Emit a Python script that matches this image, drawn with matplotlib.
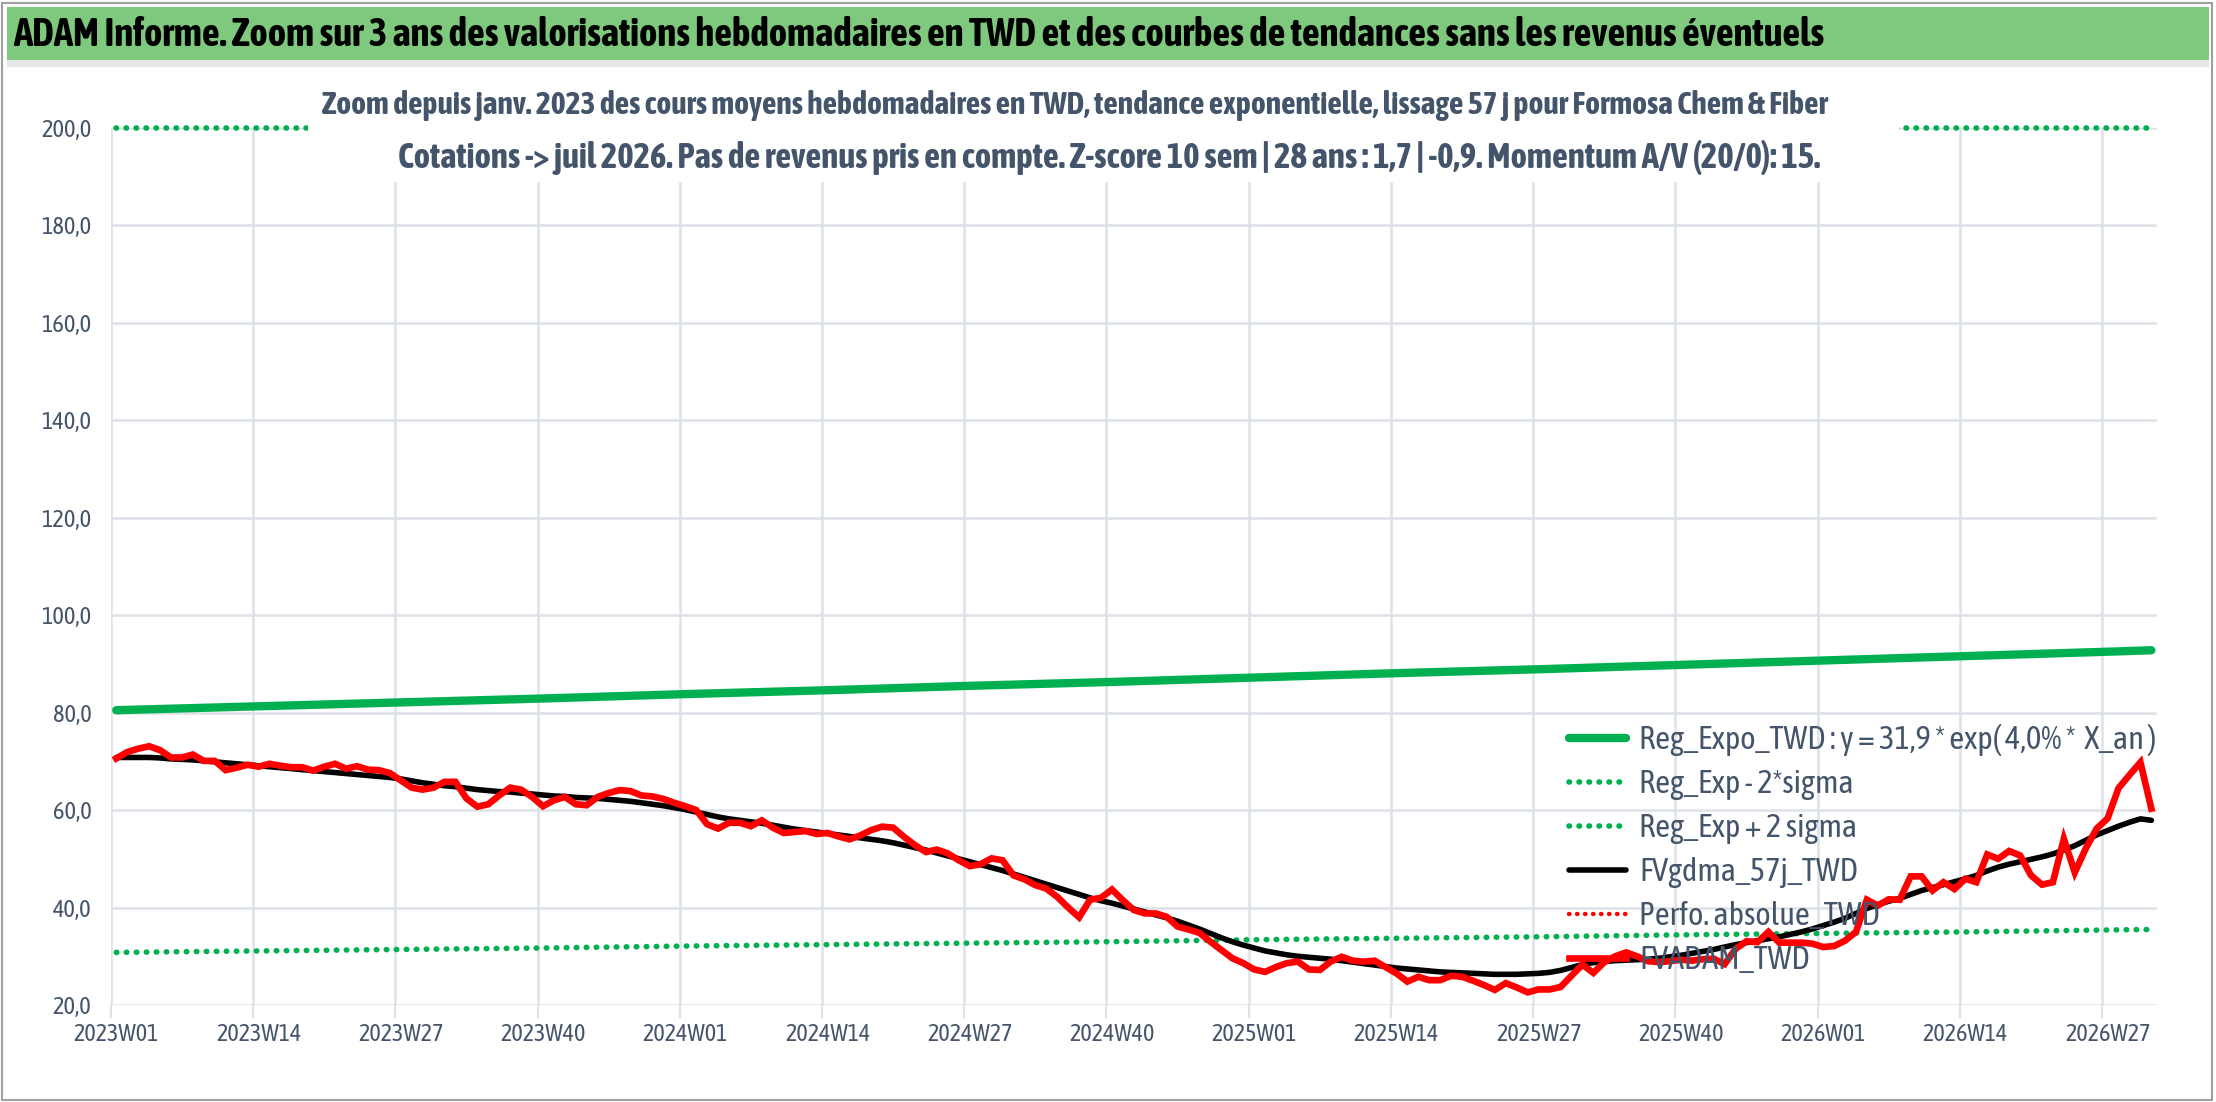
import matplotlib
matplotlib.use("Agg")
import matplotlib.pyplot as plt
from matplotlib import font_manager as fm
from matplotlib.patches import Rectangle
import numpy as np

# weekly values, 2023W01 -> 2026W31
fvadam = [70.6, 71.9, 72.6, 73.1, 72.3, 70.8, 70.8, 71.4, 70.1, 70.1,
          68.2, 68.7, 69.3, 68.9, 69.5, 69.1, 68.8, 68.8, 68.1, 68.9,
          69.5, 68.5, 69.0, 68.3, 68.2, 67.6, 66.1, 64.6, 64.2, 64.6,
          65.8, 65.8, 62.4, 60.7, 61.2, 63.0, 64.6, 64.2, 62.7, 60.8,
          62.0, 62.7, 61.2, 61.0, 62.7, 63.5, 64.1, 63.9, 63.0, 62.8,
          62.3, 61.5, 60.8, 60.0, 57.1, 56.2, 57.4, 57.4, 56.7, 57.9,
          56.4, 55.3, 55.5, 55.7, 55.1, 55.3, 54.6, 54.0, 54.8, 55.9,
          56.6, 56.4, 54.5, 52.8, 51.4, 51.9, 51.1, 49.7, 48.5, 48.9,
          50.1, 49.7, 46.6, 45.8, 44.6, 43.9, 42.2, 40.0, 38.0, 41.6,
          42.0, 43.7, 41.5, 39.5, 38.8, 38.8, 38.1, 36.1, 35.5, 34.8,
          33.0, 31.3, 29.6, 28.6, 27.3, 26.8, 27.8, 28.6, 28.9, 27.3,
          27.2, 28.9, 29.9, 29.1, 28.9, 29.1, 27.8, 26.5, 24.8, 25.8,
          25.1, 25.1, 26.0, 25.8, 25.0, 24.1, 23.1, 24.5, 23.6, 22.6,
          23.2, 23.2, 23.7, 26.0, 28.3, 26.6, 28.8, 30.0, 30.8, 30.0,
          29.0, 28.8, 29.0, 29.3, 29.1, 29.4, 29.5, 28.4, 31.5, 33.1,
          32.9, 35.0, 32.8, 32.8, 32.8, 32.6, 31.9, 32.1, 33.2, 35.0,
          41.6, 40.4, 41.7, 41.6, 46.4, 46.4, 43.5, 45.2, 43.8, 45.9,
          45.2, 50.9, 50.0, 51.6, 50.7, 46.6, 44.7, 45.2, 54.1, 47.2,
          52.1, 56.2, 58.3, 64.5, 67.2, 69.8, 60.3]

fvgdma = [70.8, 70.8, 70.8, 70.8, 70.7, 70.5, 70.4, 70.3, 70.1, 69.9,
          69.7, 69.5, 69.3, 69.1, 68.9, 68.7, 68.5, 68.3, 68.1, 67.9,
          67.7, 67.5, 67.3, 67.1, 66.9, 66.7, 66.4, 66.0, 65.6, 65.3,
          65.0, 64.8, 64.5, 64.2, 64.0, 63.8, 63.7, 63.5, 63.3, 63.1,
          62.9, 62.8, 62.6, 62.5, 62.4, 62.2, 62.0, 61.8, 61.5, 61.2,
          60.9, 60.5, 60.1, 59.6, 59.1, 58.6, 58.2, 57.9, 57.6, 57.3,
          56.9, 56.5, 56.1, 55.8, 55.5, 55.2, 54.9, 54.6, 54.3, 54.0,
          53.7, 53.3, 52.8, 52.3, 51.8, 51.2, 50.6, 50.0, 49.4, 48.8,
          48.2, 47.6, 46.9, 46.2, 45.5, 44.8, 44.1, 43.4, 42.7, 42.0,
          41.4, 40.9, 40.3, 39.7, 39.1, 38.5, 37.9, 37.2, 36.4, 35.6,
          34.7, 33.8, 33.0, 32.3, 31.7, 31.1, 30.7, 30.3, 30.0, 29.8,
          29.6, 29.4, 29.1, 28.8, 28.5, 28.2, 27.9, 27.6, 27.4, 27.2,
          27.0, 26.8, 26.7, 26.6, 26.5, 26.4, 26.3, 26.3, 26.3, 26.4,
          26.5, 26.7, 27.1, 27.7, 28.3, 28.7, 28.9, 29.1, 29.2, 29.3,
          29.4, 29.6, 29.9, 30.2, 30.6, 31.0, 31.4, 31.9, 32.4, 32.8,
          33.2, 33.6, 34.0, 34.5, 35.0, 35.6, 36.3, 37.0, 37.8, 38.8,
          39.8, 40.6, 41.3, 41.9, 42.7, 43.5, 44.1, 44.7, 45.3, 45.9,
          46.6, 47.5, 48.3, 48.9, 49.4, 49.9, 50.4, 51.0, 51.8, 52.7,
          53.8, 54.9, 55.8, 56.7, 57.5, 58.2, 57.9]

# trend lines, read every 13 weeks plus the last week
trend_weeks = [0, 13, 26, 39, 52, 65, 78, 91, 104, 117, 130, 143, 156, 169, 182, 186]
reg_expo = [80.5, 81.3, 82.1, 82.9, 83.8, 84.6, 85.5, 86.3, 87.2, 88.1,
            88.9, 89.8, 90.7, 91.6, 92.5, 92.8]
reg_low = [30.8, 31.1, 31.4, 31.7, 32.1, 32.4, 32.7, 33.0, 33.4, 33.7,
           34.0, 34.4, 34.7, 35.0, 35.4, 35.5]
reg_high = [200.0] * 16

week_labels = ["2023W01", "2023W14", "2023W27", "2023W40", "2024W01",
               "2024W14", "2024W27", "2024W40", "2025W01", "2025W14",
               "2025W27", "2025W40", "2026W01", "2026W14", "2026W27"]

title = ("ADAM Informe. Zoom sur 3 ans des valorisations hebdomadaires en TWD "
         "et des courbes de tendances sans les revenus éventuels")
sub1 = ("Zoom depuis janv. 2023 des cours moyens hebdomadaires en TWD, "
        "tendance exponentielle, lissage 57 j pour Formosa Chem & Fiber")
sub2 = ("Cotations -> juil 2026. Pas de revenus pris en compte. Z-score 10 sem | "
        "28 ans : 1,7 | -0,9. Momentum A/V (20/0): 15.")


def wnum(w):
    return w if isinstance(w, (int, float)) else fm.weight_dict.get(w, 400)


def pick_font():
    # a narrow face with a bold cut looks closest to the Calibri of the original
    fams = {}
    for f in fm.fontManager.ttflist:
        fams.setdefault(f.name, set()).add(wnum(f.weight))
    best = None
    for name, ws in sorted(fams.items()):
        if not ("Narrow" in name or "Condensed" in name):
            continue
        if any(k in name for k in ("Light", "Thin", "Black", "Medium", "Semi", "Extra")):
            continue
        if max(ws) >= 600:
            return name
        best = best or name
    return best or "DejaVu Sans"


fam = pick_font()
plt.rcParams["font.family"] = [fam, "DejaVu Sans"]

txt = "#44546A"
grid = "#DDE1E8"
green = "#00B050"
dots = (0, (0.1, 1.7))

fig = plt.figure(figsize=(22.16, 11.02), dpi=100)
fig.patch.set_facecolor("white")
r = fig.canvas.get_renderer()


def fit(t, width_px):
    w = t.get_window_extent(r).width
    t.set_fontsize(t.get_fontsize() * width_px / w)
    return t.get_fontsize()


def size_for(s, width_px, weight="normal"):
    t = fig.text(0, 0, s, fontsize=20, fontweight=weight)
    fs = fit(t, width_px)
    t.remove()
    return fs


fig.patches.append(Rectangle((0.003, 0.946), 0.994, 0.048, transform=fig.transFigure,
                             facecolor="#7FC97F", edgecolor="none"))
fig.patches.append(Rectangle((0.003, 0.939), 0.994, 0.007, transform=fig.transFigure,
                             facecolor="#E6E6E6", edgecolor="none"))
fig.patches.append(Rectangle((0.001, 0.002), 0.997, 0.995, transform=fig.transFigure,
                             facecolor="none", edgecolor="#A0A0A0", lw=1.5))
t = fig.text(0.006, 0.968, title, fontsize=23, fontweight="bold", color="black",
             ha="left", va="center")
fit(t, 1810)

ax = fig.add_axes([0.050, 0.088, 0.9233, 0.796])
x = np.arange(len(fvadam))

ax.plot(trend_weeks, reg_low, color=green, lw=4, ls=dots, dash_capstyle="round",
        label="Reg_Exp - 2*sigma", zorder=3)
ax.plot(trend_weeks, reg_high, color=green, lw=4, ls=dots, dash_capstyle="round",
        label="Reg_Exp + 2 sigma", zorder=3, clip_on=False)
ax.plot(trend_weeks, reg_expo, color=green, lw=6, solid_capstyle="round",
        label="Reg_Expo_TWD : y = 31,9 * exp( 4,0% *  X_an )", zorder=4)
ax.plot(x, fvgdma, color="black", lw=4, solid_capstyle="round",
        label="FVgdma_57j_TWD", zorder=5)
ax.plot([], [], color="#FF0000", lw=3.2, ls=dots, dash_capstyle="round",
        label="Perfo. absolue_TWD")
ax.plot(x, fvadam, color="#FF0000", lw=4.8, solid_joinstyle="miter",
        label="FVADAM_TWD", zorder=6)

tick_fs = size_for("2023W01", 85)
ytick_fs = size_for("200,0", 50)

ax.set_xlim(-0.5, len(fvadam) - 0.5)
ax.set_ylim(20, 200)
ax.set_yticks(np.arange(20, 201, 20))
ax.set_yticklabels([f"{v:.1f}".replace(".", ",") for v in np.arange(20, 201, 20)])
label_pos = np.arange(len(week_labels)) * 13
ax.set_xticks(label_pos)
ax.set_xticklabels(week_labels)
ax.set_xticks(label_pos - 0.5, minor=True)
ax.tick_params(axis="x", which="major", length=0, pad=13, labelsize=tick_fs, labelcolor=txt)
ax.tick_params(axis="x", which="minor", length=9, width=1.5, color=grid)
ax.tick_params(axis="y", length=0, pad=14, labelsize=ytick_fs, labelcolor=txt)
ax.grid(axis="y", color=grid, lw=1.8)
ax.grid(axis="x", which="minor", color=grid, lw=1.8)
ax.grid(axis="x", which="major", visible=False)
for s in ax.spines.values():
    s.set_visible(False)
ax.set_axisbelow(True)

# white box behind the subtitle, hides the top band
ax.add_patch(Rectangle((0.139, 0.835), 0.718, 0.09, transform=fig.transFigure,
                       facecolor="white", edgecolor="none", zorder=8, clip_on=False))
s1 = ax.text(0.1453, 0.904, sub1, transform=fig.transFigure, ha="left", va="center",
             fontsize=19, fontweight="bold", color=txt, zorder=9)
fit(s1, 1504)
s2 = ax.text(0.1796, 0.857, sub2, transform=fig.transFigure, ha="left", va="center",
             fontsize=19, fontweight="bold", color=txt, zorder=9)
fit(s2, 1419)

h, l = ax.get_legend_handles_labels()
order = [2, 0, 1, 3, 4, 5]
leg_fs = size_for(l[2], 516)
fs_px = leg_fs * 100 / 72
spacing = 0.5
for _ in range(3):
    leg = ax.legend([h[i] for i in order], [l[i] for i in order], loc="upper left",
                    bbox_to_anchor=(0.708, 0.343), bbox_transform=fig.transFigure,
                    frameon=False, fontsize=leg_fs, handlelength=57 / fs_px,
                    handletextpad=0.4, labelspacing=spacing,
                    borderaxespad=0, borderpad=0)
    fig.canvas.draw()
    tx = leg.get_texts()
    step = (tx[0].get_window_extent(r).y0 - tx[-1].get_window_extent(r).y0) / 5
    spacing = max(0.0, spacing + (44 - step) / fs_px)
for t in leg.get_texts():
    t.set_color(txt)
leg.set_zorder(7)

fig.savefig("out.png", dpi=100)
